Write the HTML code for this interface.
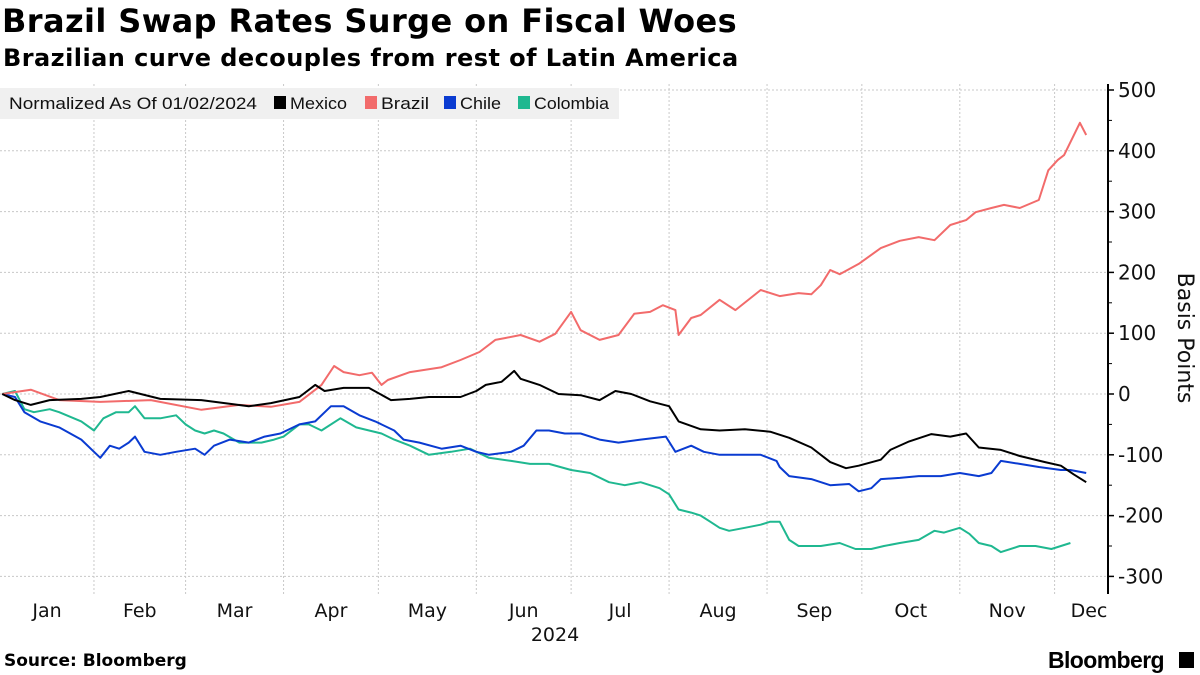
<!DOCTYPE html>
<html><head><meta charset="utf-8"><style>
body{margin:0;background:#fff;font-family:"Liberation Sans","DejaVu Sans",sans-serif}
#wrap{position:relative;width:1200px;height:675px;overflow:hidden}
.t{position:absolute;white-space:nowrap}
</style></head><body>
<div id="wrap">
<div class="t" style="left:2px;top:2px;font-size:32px;font-weight:bold;font-family:'DejaVu Sans',sans-serif;letter-spacing:0.4px">Brazil Swap Rates Surge on Fiscal Woes</div>
<div class="t" style="left:3px;top:44px;font-size:24px;font-weight:bold;font-family:'DejaVu Sans',sans-serif;letter-spacing:0.45px">Brazilian curve decouples from rest of Latin America</div>
<svg id="svg" width="1200" height="675" style="position:absolute;left:0;top:0"></svg>
<div class="t" style="left:4px;top:651px;font-size:17px;font-weight:bold;font-family:'DejaVu Sans',sans-serif">Source: Bloomberg</div>
<div class="t" style="left:1048px;top:647px;font-size:23px;font-weight:bold;letter-spacing:-0.6px">Bloomberg</div>
<div style="position:absolute;left:1179px;top:652px;width:15px;height:16px;background:#000"></div>
</div>
<script>
const mexDays=[2,6,11,17,27,33,42,52,65,80,87,96,101,104,110,118,125,131,137,147,152,155,160,164,166,172,178,185,191,196,201,207,213,216,223,229,237,245,251,258,264,269,273,280,283,289,296,302,307,311,318,324,332,337,341,345];
const mexVals=[0,-10,-18,-10,-8,-5,5,-8,-10,-20,-15,-5,15,5,10,10,-10,-8,-5,-5,5,15,20,38,25,15,0,-2,-10,5,0,-12,-20,-45,-58,-60,-58,-62,-72,-88,-112,-122,-118,-108,-92,-78,-66,-70,-65,-88,-92,-102,-112,-118,-132,-145];
const braDays=[2,11,20,33,49,65,77,87,96,103,107,110,115,119,122,124,131,141,147,153,158,161,166,172,177,182,185,191,197,202,207,211,215,216,220,223,229,234,242,248,254,258,261,264,267,273,280,286,292,297,302,307,310,315,319,324,330,333,336,338,343,345];
const braVals=[0,7,-10,-13,-10,-26,-18,-21,-13,15,46,36,31,35,15,23,36,44,56,69,89,92,97,86,99,135,105,89,97,132,135,146,138,97,125,130,155,138,171,161,166,164,179,204,197,214,240,252,258,253,278,286,299,306,311,306,319,368,385,393,446,426];
const chiDays=[2,6,9,14,20,27,31,33,36,39,42,44,47,52,57,63,66,69,74,80,85,90,96,101,106,110,115,120,126,129,134,141,147,152,156,163,167,171,175,180,185,191,197,204,212,215,220,224,229,235,242,247,248,251,258,264,270,273,277,280,286,292,299,305,311,315,318,324,330,337,340,345];
const chiVals=[0,-5,-30,-45,-55,-75,-95,-105,-85,-90,-80,-70,-95,-100,-95,-90,-100,-85,-75,-80,-70,-65,-50,-45,-20,-20,-35,-45,-60,-75,-80,-90,-85,-95,-100,-95,-85,-60,-60,-65,-65,-75,-80,-75,-70,-95,-85,-95,-100,-100,-100,-110,-120,-135,-140,-150,-148,-160,-155,-140,-138,-135,-135,-130,-135,-130,-110,-115,-120,-125,-125,-130];
const colDays=[2,6,9,12,17,20,27,31,34,38,42,44,47,52,57,60,63,66,69,72,77,84,88,91,96,99,103,109,114,122,126,131,137,144,150,156,163,169,175,182,188,194,199,204,210,213,216,220,223,226,229,232,237,242,245,248,251,254,261,267,272,277,281,286,292,297,300,305,308,311,315,318,324,329,334,340,345];
const colVals=[0,5,-25,-30,-25,-30,-45,-60,-40,-30,-30,-20,-40,-40,-35,-50,-60,-65,-60,-65,-80,-80,-75,-70,-50,-50,-60,-40,-55,-65,-75,-85,-100,-95,-90,-105,-110,-115,-115,-125,-130,-145,-150,-145,-155,-165,-190,-195,-200,-210,-220,-225,-220,-215,-210,-210,-240,-250,-250,-245,-255,-255,-250,-245,-240,-225,-228,-220,-230,-245,-250,-260,-250,-250,-255,-245];
const yTicks=[500,400,300,200,100,0,-100,-200,-300];
const months=["Jan","Feb","Mar","Apr","May","Jun","Jul","Aug","Sep","Oct","Nov","Dec"];
const monthStarts=[0,31,60,91,121,152,182,213,244,274,305,335];

const NS="http://www.w3.org/2000/svg";
const svg=document.getElementById('svg');
const xS=d=>-4+3.16*d;
const yS=v=>394-0.608*v;
const AX=1108,TOP=84,BOT=594;
function mk(tag,attrs,parent){const e=document.createElementNS(NS,tag);for(const k in attrs)e.setAttribute(k,attrs[k]);(parent||svg).appendChild(e);return e;}
yTicks.forEach(v=>{
  const l=mk('line',{x1:0,x2:AX,y1:yS(v),y2:yS(v),stroke:'#c8c8c8','stroke-dasharray':'2,2','stroke-width':1});
  
  
  const tk=mk('line',{x1:AX,x2:AX+6,y1:yS(v),y2:yS(v),stroke:'#000','stroke-width':1.5});
  
  
  if(v>-300){const mt=mk('line',{x1:AX,x2:AX+4,y1:yS(v-50),y2:yS(v-50),stroke:'#000','stroke-width':1});
  
  }
  const t=mk('text',{x:AX+10,y:yS(v)+7,'font-size':20,fill:'#111','font-family':'DejaVu Sans, sans-serif'});t.textContent=v<0?'-'+(-v):v;
  
  
});
monthStarts.forEach((d,i)=>{
  if(i>0){const l=mk('line',{x1:xS(d),x2:xS(d),y1:TOP,y2:BOT,stroke:'#c8c8c8','stroke-dasharray':'2,2','stroke-width':1});
  
  }
  let cx=i<11?(xS(d)+xS(monthStarts[i+1]))/2:1089;
  if(i==0)cx=47;
  const t=mk('text',{x:cx,y:617,'font-size':19,'text-anchor':'middle',fill:'#111','font-family':'DejaVu Sans, sans-serif'});t.textContent=months[i];
  
  
});
const yr=mk('text',{x:555,y:641,'font-size':19,'text-anchor':'middle',fill:'#111','font-family':'DejaVu Sans, sans-serif'});yr.textContent='2024';


const ax=mk('line',{x1:AX,x2:AX,y1:TOP,y2:BOT,stroke:'#000','stroke-width':2});


const yt=mk('text',{x:0,y:0,'font-size':22,'text-anchor':'middle',fill:'#111','font-family':'DejaVu Sans, sans-serif',transform:'translate(1178,338) rotate(90)'});yt.textContent='Basis Points';


const lg=mk('g',{});


const lb=mk('rect',{x:0,y:88,width:619,height:31,fill:'#f0f0f0'},lg);


const lt=mk('text',{x:9,y:109,'font-size':17,fill:'#111',textLength:248,lengthAdjust:'spacingAndGlyphs'},lg);lt.textContent='Normalized As Of 01/02/2024';


const legItems=[["Mexico","#000",274,57],["Brazil","#f26b6b",365,48],["Chile","#0a3bd1",444,41],["Colombia","#1fb890",518,75]];
legItems.forEach(it=>{
  const g=mk('g',{},lg);
  
  
  mk('rect',{x:it[2],y:96,width:12,height:13,fill:it[1]},g);
  const t=mk('text',{x:it[2]+16,y:109,'font-size':17,fill:'#111',textLength:it[3],lengthAdjust:'spacingAndGlyphs'},g);t.textContent=it[0];
});
function line(days,vals,color,name){
  const d=days.map((dd,i)=>(i?'L':'M')+xS(dd).toFixed(1)+','+yS(vals[i]).toFixed(1)).join('');
  const p=mk('path',{d:d,fill:'none',stroke:color,'stroke-width':2,'stroke-linejoin':'round'});
  
  
}
line(colDays,colVals,'#1fb890','colombia-line');
line(chiDays,chiVals,'#0a3bd1','chile-line');
line(braDays,braVals,'#f26b6b','brazil-line');
line(mexDays,mexVals,'#000','mexico-line');
</script>
</body></html>
